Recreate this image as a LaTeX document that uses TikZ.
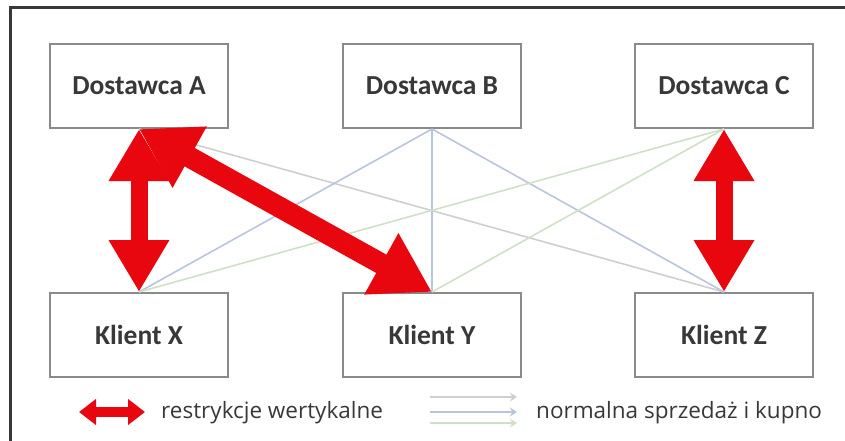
\documentclass[tikz,border=0pt]{standalone}
\usepackage{fontspec}
\setmainfont{Carlito}
\newfontfamily\legfont{Open Sans}
\usetikzlibrary{arrows.meta}
\definecolor{boxgray}{HTML}{8A8A8A}
\definecolor{textgray}{HTML}{383838}
\definecolor{redr}{HTML}{E8070F}
\definecolor{linegray}{HTML}{CDD0D0}
\definecolor{lineblue}{HTML}{B9C5DD}
\definecolor{linegreen}{HTML}{CFE0C6}

\begin{document}
\begin{tikzpicture}[x=1pt,y=-1pt,
    box/.style={draw=boxgray,line width=2pt,fill=white,inner sep=0pt,
        minimum width=178pt,minimum height=84pt,text=textgray,
        font=\fontsize{27.5}{30}\selectfont\bfseries},
    trade/.style={line width=1.6pt},
    restr/.style={draw=redr,line width=17pt,
        {Triangle[length=52pt,width=57pt]}-{Triangle[length=52pt,width=57pt]}},
    legtext/.style={anchor=west,text=textgray,inner sep=0pt,
        font=\legfont\fontsize{22.5}{24}\selectfont}]
        \useasboundingbox (0,0) rectangle (845,441);
        \draw[line width=3pt,textgray] (10,441) -- (10,8) -- (845,8);
        % suppliers
        \node[box] (dA) at (139,86) {Dostawca A};
        \node[box] (dB) at (432,86) {Dostawca B};
        \node[box] (dC) at (724,86) {Dostawca C};
        % clients
        \node[box] (kX) at (139,335) {\raisebox{-2pt}{Klient X}};
        \node[box] (kY) at (432,335) {Klient Y};
        \node[box] (kZ) at (724,335) {\raisebox{-2pt}{Klient Z}};
        % A
        \draw[trade,linegray] (dA.south) -- (kZ.north);
        % B
        \draw[trade,lineblue] (dB.south) -- (kX.north);
        \draw[trade,lineblue] (dB.south) -- (kY.north);
        \draw[trade,lineblue] (dB.south) -- (kZ.north);
        % C
        \draw[trade,linegreen] (dC.south) -- (kX.north);
        \draw[trade,linegreen] (dC.south) -- (kY.north);
        % restrictions
        \draw[restr] (dA.south) -- (kX.north);
        \draw[restr,line width=21pt,
            {Triangle[length=58pt,width=66pt]}-{Triangle[length=58pt,width=66pt]}]
            (dA.south) -- (kY.north);
        \draw[restr] (dC.south) -- (kZ.north);
        % legend
        \coordinate (r1) at (79,412);
        \coordinate (r2) at (145,412);
        \draw[redr,line width=10pt,
            {Triangle[length=17pt,width=25pt]}-{Triangle[length=17pt,width=25pt]}] (r1) -- (r2);
        \node[legtext] (lr) at (161,413) {restrykcje wertykalne};
        \coordinate (n1) at (430,397);
        \coordinate (n2) at (517,397);
        \draw[trade,linegray,-{Stealth[length=7pt,width=9pt]}] (n1) -- (n2);
        \draw[trade,lineblue,-{Stealth[length=7pt,width=9pt]}] ([yshift=-15pt]n1) -- ([yshift=-15pt]n2);
        \draw[trade,linegreen,-{Stealth[length=7pt,width=9pt]}] ([yshift=-26pt]n1) -- ([yshift=-26pt]n2);
        \node[legtext] (ln) at (536,413) {normalna sprzedaż i kupno};
    \end{tikzpicture}
\end{document}
